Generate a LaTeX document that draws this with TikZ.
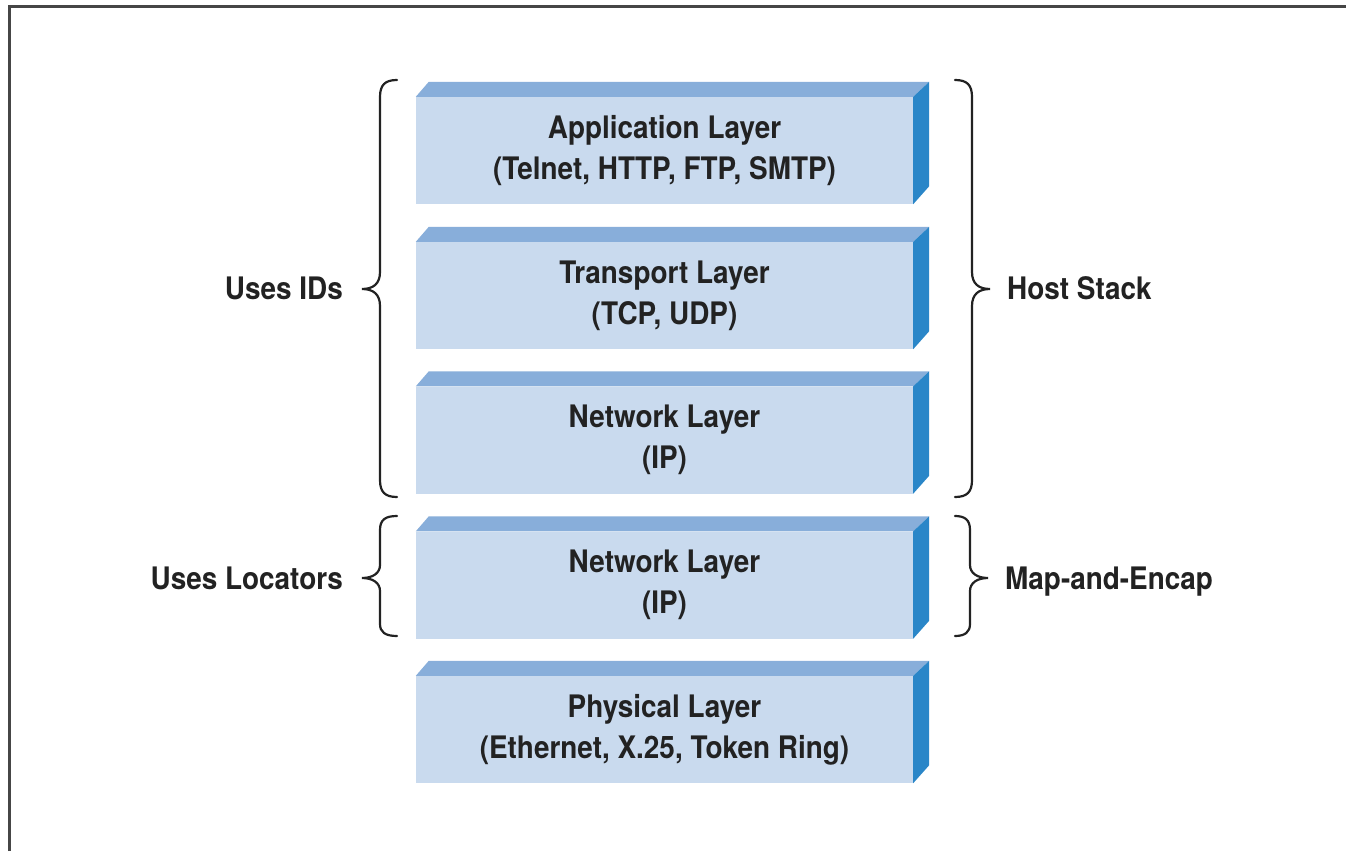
\documentclass[tikz,border=0pt]{standalone}
\usepackage{fontspec}
\setmainfont{TeX Gyre Heros}[FakeStretch=0.9]
\usetikzlibrary{calc}
\definecolor{frontblue}{RGB}{201,218,238}
\definecolor{topblue}{RGB}{136,174,218}
\definecolor{sideblue}{RGB}{42,134,200}
\definecolor{ink}{RGB}{34,34,34}
\definecolor{framegray}{RGB}{70,70,70}

% top and right faces of a layer block, drawn from the front node's anchors
\newcommand\layerfaces[1]{%
  \fill[topblue] (#1.north west) -- ++(13,-15) -- ($(#1.north east)+(16,-15)$) -- (#1.north east) -- cycle;
  \fill[sideblue] (#1.north east) -- ++(16,-15) -- ($(#1.south east)+(16,-18)$) -- (#1.south east) -- cycle;
}

\begin{document}
\begin{tikzpicture}[x=1pt,y=-1pt,
  layer/.style={fill=frontblue, minimum width=497pt, minimum height=107pt,
    inner sep=0pt, align=center, text=ink,
    font=\bfseries\fontsize{31}{41}\selectfont},
  brace/.style={draw=ink, line width=2.2pt, line cap=round},
  tag/.style={font=\bfseries\fontsize{31}{34}\selectfont, text=ink, inner sep=0pt}]

\useasboundingbox (0,0) rectangle (1346,851);
\fill[white] (0,0) rectangle (1346,851);

% outer frame (left and top edges)
\draw[framegray, line width=3pt] (9,851) -- (9,7) -- (1346,7);

% layer blocks
\node[layer] (app)  at (664.5,150.5) {Application Layer\\(Telnet, HTTP, FTP, SMTP)};
\node[layer] (tra)  at (664.5,295.5) {Transport Layer\\(TCP, UDP)};
\node[layer] (net)  at (664.5,440.0) {Network Layer\\(IP)};
\node[layer] (loc)  at (664.5,585.0) {Network Layer\\(IP)};
\node[layer] (phy)  at (664.5,729.5) {Physical Layer\\(Ethernet, X.25, Token Ring)};
\layerfaces{app}
\layerfaces{tra}
\layerfaces{net}
\layerfaces{loc}
\layerfaces{phy}

% braces
\draw[brace] (397,80) .. controls (385,80) and (380,85) .. (380,97) -- (380,272)
  .. controls (380,284) and (373,289) .. (362,289)
  .. controls (373,289) and (380,294) .. (380,306) -- (380,480)
  .. controls (380,492) and (385,497) .. (397,497);
\draw[brace] (955,80) .. controls (967,80) and (972,85) .. (972,97) -- (972,272)
  .. controls (972,284) and (979,289) .. (990,289)
  .. controls (979,289) and (972,294) .. (972,306) -- (972,480)
  .. controls (972,492) and (967,497) .. (955,497);
\draw[brace] (397,516) .. controls (385,516) and (380,520) .. (380,530) -- (380,565)
  .. controls (380,573) and (373,578) .. (362,578)
  .. controls (373,578) and (380,583) .. (380,591) -- (380,624)
  .. controls (380,632) and (385,636) .. (397,636);
\draw[brace] (955,516) .. controls (965,516) and (970,520) .. (970,530) -- (970,565)
  .. controls (970,573) and (977,578) .. (988,578)
  .. controls (977,578) and (970,583) .. (970,591) -- (970,624)
  .. controls (970,632) and (965,636) .. (955,636);

% brace labels
\node[tag, anchor=base east] (ids)  at (343,299) {Uses IDs};
\node[tag, anchor=base west] (host) at (1007,299) {Host Stack};
\node[tag, anchor=base east] (locs) at (343,589) {Uses Locators};
\node[tag, anchor=base west] (map)  at (1005,589) {Map-and-Encap};
\end{tikzpicture}
\end{document}
